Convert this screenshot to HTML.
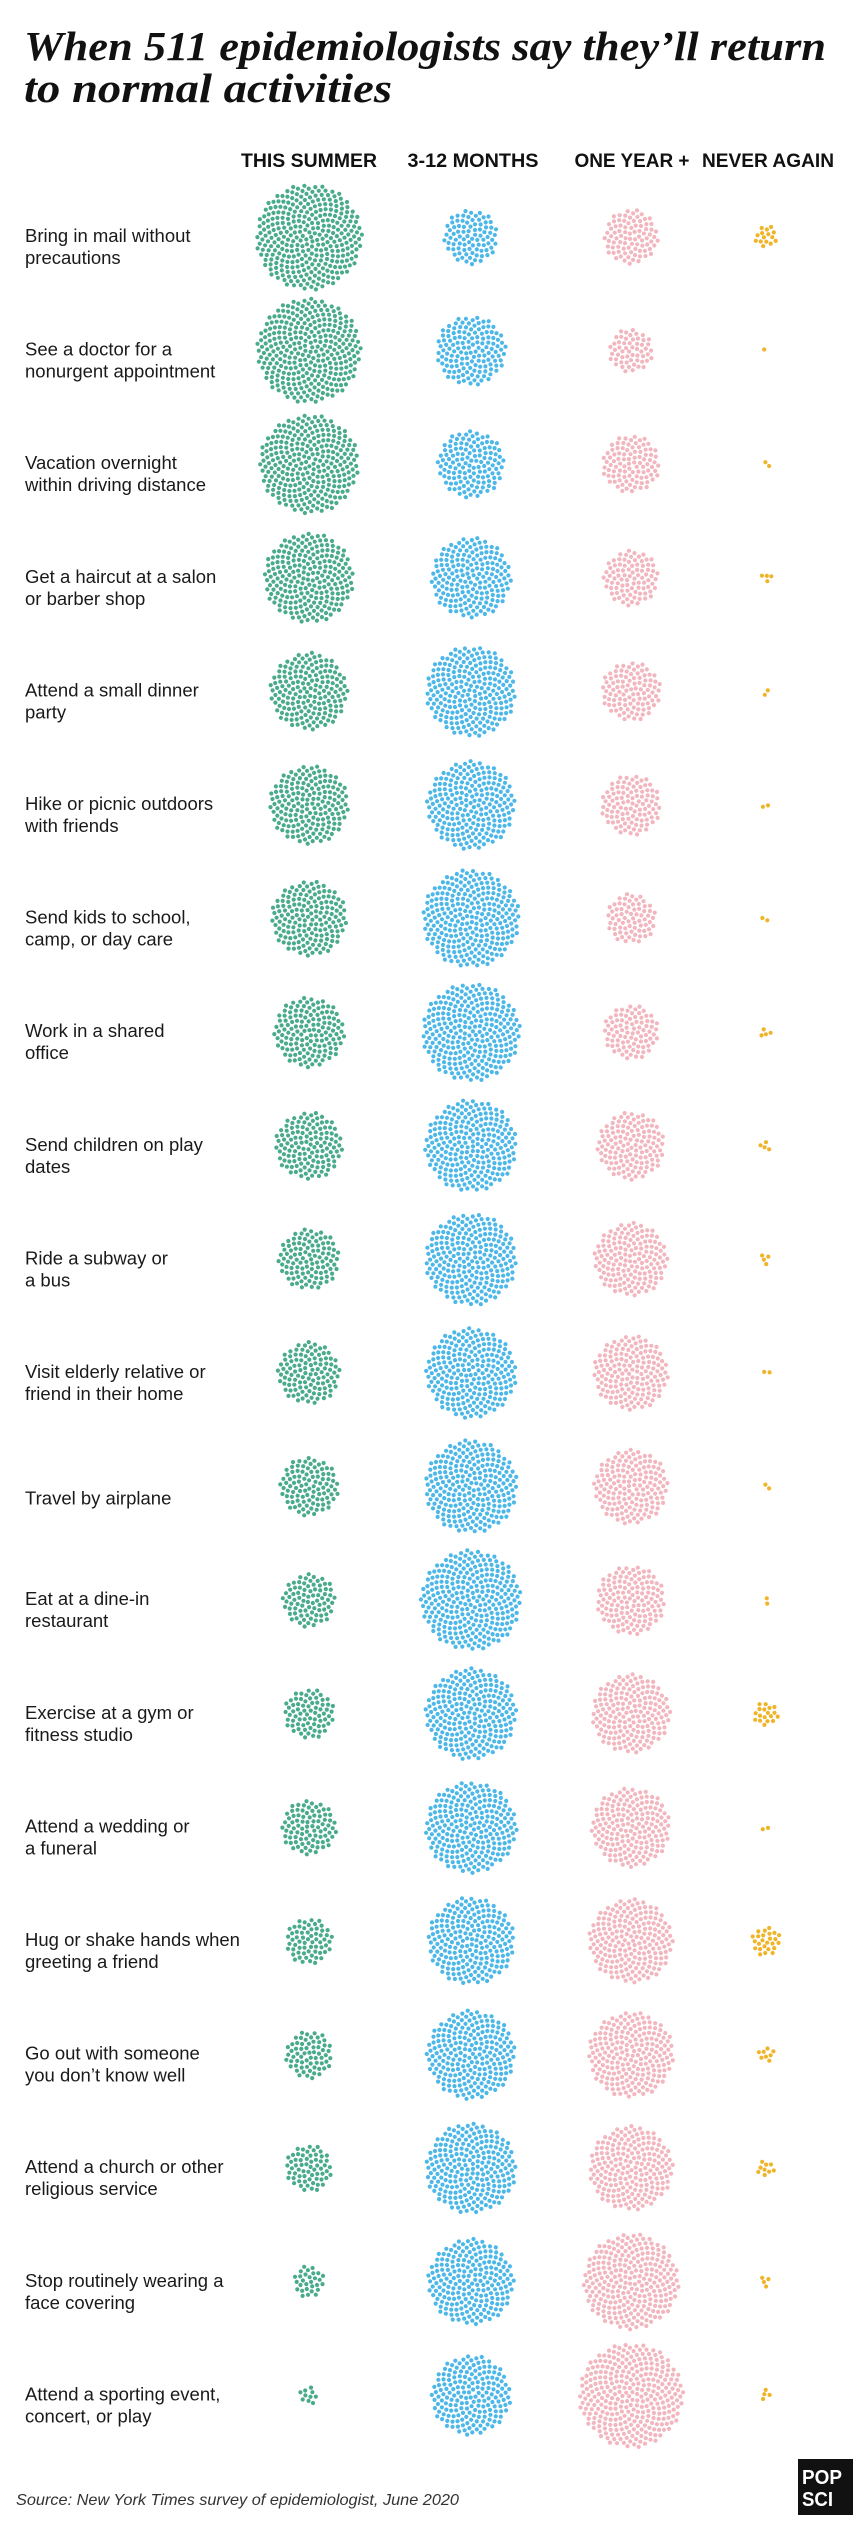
<!DOCTYPE html>
<html><head><meta charset="utf-8"><style>
html,body{margin:0;padding:0;background:#fff;}
svg{display:block;}
.lab{font-family:"Liberation Sans",sans-serif;font-size:18.5px;fill:#1a1a1a;}
.hd{font-family:"Liberation Sans",sans-serif;font-size:19px;font-weight:bold;fill:#111;}
</style></head><body>
<svg id="s" width="857" height="2528" viewBox="0 0 857 2528" xmlns="http://www.w3.org/2000/svg">
<text x="24" y="60" font-family="Liberation Serif,serif" font-weight="bold" font-style="italic" font-size="41" textLength="802" lengthAdjust="spacingAndGlyphs" fill="#111">When 511 epidemiologists say they’ll return</text>
<text x="24" y="102" font-family="Liberation Serif,serif" font-weight="bold" font-style="italic" font-size="41" textLength="368" lengthAdjust="spacingAndGlyphs" fill="#111">to normal activities</text>
<text class="hd" x="309" y="167" text-anchor="middle" textLength="136" lengthAdjust="spacingAndGlyphs">THIS SUMMER</text>
<text class="hd" x="473" y="167" text-anchor="middle" textLength="131" lengthAdjust="spacingAndGlyphs">3-12 MONTHS</text>
<text class="hd" x="632" y="167" text-anchor="middle" textLength="115" lengthAdjust="spacingAndGlyphs">ONE YEAR +</text>
<text class="hd" x="768" y="167" text-anchor="middle" textLength="132" lengthAdjust="spacingAndGlyphs">NEVER AGAIN</text>
<g id="rows"></g>
<text x="16" y="2505" font-family="Liberation Sans,sans-serif" font-style="italic" font-size="16" fill="#333" textLength="443" lengthAdjust="spacingAndGlyphs">Source: New York Times survey of epidemiologist, June 2020</text>
<rect x="798" y="2459" width="55" height="56" fill="#111"/>
<text x="802" y="2484" font-family="Liberation Sans,sans-serif" font-weight="bold" font-size="20" fill="#fff" textLength="40" lengthAdjust="spacingAndGlyphs">POP</text>
<text x="802" y="2506" font-family="Liberation Sans,sans-serif" font-weight="bold" font-size="20" fill="#fff" textLength="31" lengthAdjust="spacingAndGlyphs">SCI</text>
</svg>
<script>
var rows=[
[["Bring in mail without","precautions"],66,34,34,15],
[["See a doctor for a","nonurgent appointment"],66,44,28,1],
[["Vacation overnight","within driving distance"],62,42,36,2],
[["Get a haircut at a salon","or barber shop"],58,52,36,4],
[["Attend a small dinner","party"],50,58,38,2],
[["Hike or picnic outdoors","with friends"],50,56,38,2],
[["Send kids to school,","camp, or day care"],48,62,32,2],
[["Work in a shared","office"],46,64,36,4],
[["Send children on play","dates"],44,60,44,4],
[["Ride a subway or","a bus"],40,60,48,4],
[["Visit elderly relative or","friend in their home"],40,58,48,2],
[["Travel by airplane"],38,60,48,2],
[["Eat at a dine-in","restaurant"],34,64,44,2],
[["Exercise at a gym or","fitness studio"],32,58,50,18],
[["Attend a wedding or","a funeral"],36,60,52,2],
[["Hug or shake hands when","greeting a friend"],30,56,54,25],
[["Go out with someone","you don’t know well"],30,56,54,8],
[["Attend a church or other","religious service"],30,58,54,9],
[["Stop routinely wearing a","face covering"],20,54,60,4],
[["Attend a sporting event,","concert, or play"],12,52,68,4]
];
var xs=[309,471,631,766],cols=["#4aab8c","#4db8e8","#f2b6be","#f0b429"];
var ns="http://www.w3.org/2000/svg",g=document.getElementById("rows"),out="";
var c=2.95,ga=Math.PI*(3-Math.sqrt(5));
rows.forEach(function(r,i){
 var cy=237+i*113.6;
 var L=r[0];
 if(L.length==2){out+='<text class="lab" x="25" y="'+(cy+5)+'">'+L[0]+'</text><text class="lab" x="25" y="'+(cy+27)+'">'+L[1]+'</text>';}
 else out+='<text class="lab" x="25" y="'+(cy+18)+'">'+L[0]+'</text>';
 var y=r[4],s=r[1]*r[1]+r[2]*r[2]+r[3]*r[3],rem=511-y;
 var n=[Math.round(rem*r[1]*r[1]/s),Math.round(rem*r[2]*r[2]/s),0,y];
 n[2]=rem-n[0]-n[1];
 for(var k=0;k<4;k++){
  for(var j=0;j<n[k];j++){
   var rr=c*Math.sqrt(j+0.5),a=j*ga+i*0.7+k;
   out+='<circle cx="'+(xs[k]+rr*Math.cos(a)).toFixed(1)+'" cy="'+(cy+rr*Math.sin(a)).toFixed(1)+'" r="2.1" fill="'+cols[k]+'"/>';
  }
 }
});
g.innerHTML=out;
</script>
</body></html>
